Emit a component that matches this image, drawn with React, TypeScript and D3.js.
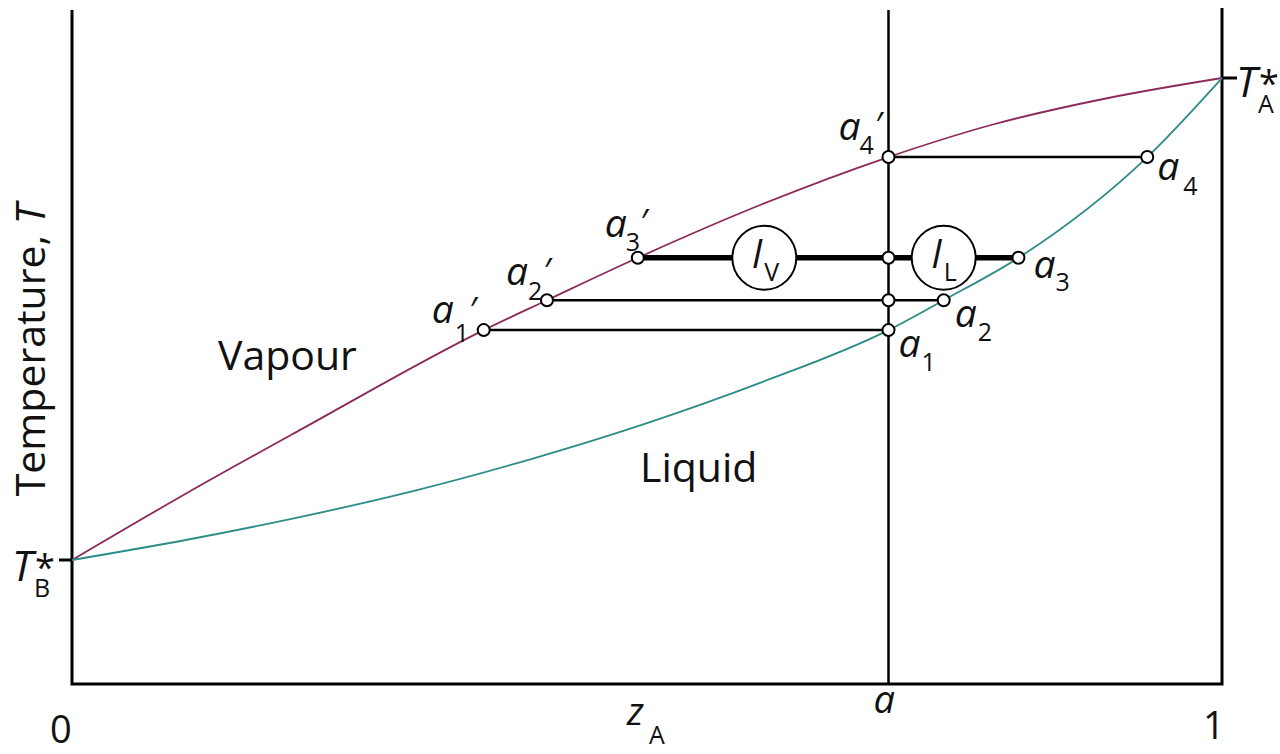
import React from "react";
import * as d3 from "d3";

// Mole fraction of A (zA) vs temperature, normalised so T*B = 0 and T*A = 1.
const vapourCurve: [number, number][] = [
  [0, 0], [0.1, 0.139], [0.2, 0.272], [0.358, 0.477], [0.413, 0.539],
  [0.492, 0.627], [0.6, 0.738], [0.71, 0.836], [0.8, 0.903], [0.9, 0.958], [1, 1],
];
const liquidCurve: [number, number][] = [
  [0, 0], [0.1, 0.042], [0.2, 0.09], [0.3, 0.145], [0.4, 0.21], [0.5, 0.284],
  [0.6, 0.369], [0.71, 0.477], [0.758, 0.539], [0.823, 0.627], [0.935, 0.836], [1, 1],
];

// Overall composition a
const compositionA = 0.71;

// Tie lines: temperature, vapour-end composition, liquid-end composition
const tieIds = ["1", "2", "3", "4"];
const tieT = [0.477, 0.539, 0.627, 0.836];
const tieXV = [0.358, 0.413, 0.492, 0.71];
const tieXL = [0.71, 0.758, 0.823, 0.935];

// Lever-rule circles on the third tie line
const leverLabels = ["V", "L"];
const leverX = [0.602, 0.758];

const FONT = "'Open Sans', 'Noto Sans', Arial, sans-serif";
const PURPLE = "#8c2a5c";
const TEAL = "#2c8c86";

// text placement offsets (px) from the marker each label belongs to
const primeOffsets = [
  { a: [-52, -7], s: [-29, 12], p: [-15, -8] },
  { a: [-41, -15], s: [-19, 0], p: [-4, -17] },
  { a: [-33, -21], s: [-12, -7], p: [2, -24] },
  { a: [-50, -17], s: [-29, -3], p: [-14, -20] },
];
const liquidOffsets = [
  { a: [10, 27], s: [33, 41] },
  { a: [11, 27], s: [34, 41] },
  { a: [15, 20], s: [37, 33] },
  { a: [10, 23], s: [36, 38] },
];

export default function App() {
  const W = 1280;
  const H = 754;
  const left = 72, right = 1222, top = 10, bottom = 684;

  const x = d3.scaleLinear().domain([0, 1]).range([left, right]);
  const y = d3.scaleLinear().domain([0, 1]).range([560, 78]);

  const line = d3
    .line<[number, number]>()
    .x((d) => x(d[0]))
    .y((d) => y(d[1]))
    .curve(d3.curveMonotoneX);

  const ax = x(compositionA);

  const smallDots: [number, number][] = [];
  tieT.forEach((t, i) => {
    smallDots.push([tieXV[i], t]);
    smallDots.push([tieXL[i], t]);
    if (tieXV[i] !== compositionA && tieXL[i] !== compositionA) smallDots.push([compositionA, t]);
  });

  const aSize = 39;
  const subSize = 25;

  return (
    <svg
      width={W}
      height={H}
      style={{ position: "absolute", left: 0, top: 0, background: "#fff" }}
      fontFamily={FONT}
    >
      {/* frame */}
      <path
        d={`M${left},${top} V${bottom} H${right} V${top - 2}`}
        fill="none"
        stroke="#000"
        strokeWidth={3}
      />
      {/* composition line at a */}
      <line x1={ax} x2={ax} y1={top} y2={bottom} stroke="#000" strokeWidth={2.5} />

      {/* boiling point ticks */}
      <line x1={left - 13} x2={left} y1={y(0)} y2={y(0)} stroke="#000" strokeWidth={3} />
      <line x1={right} x2={right + 15} y1={y(1)} y2={y(1)} stroke="#000" strokeWidth={3} />

      {/* phase boundaries */}
      <path d={line(vapourCurve) || ""} fill="none" stroke={PURPLE} strokeWidth={1.8} />
      <path d={line(liquidCurve) || ""} fill="none" stroke={TEAL} strokeWidth={1.8} />

      {/* tie lines */}
      {tieT.map((t, i) => (
        <line
          key={`tie${i}`}
          x1={x(tieXV[i])}
          x2={x(tieXL[i])}
          y1={y(t)}
          y2={y(t)}
          stroke="#000"
          strokeWidth={i === 2 ? 5.5 : 2.5}
        />
      ))}

      {/* lever circles */}
      {leverX.map((lx, i) => (
        <g key={`lever${i}`}>
          <circle cx={x(lx)} cy={y(tieT[2])} r={32} fill="#fff" stroke="#000" strokeWidth={2} />
          <text x={x(lx) - 12} y={y(tieT[2]) + 10} fontSize={38} fontStyle="italic" fill="#111">
            l
          </text>
          <text x={x(lx) + 0} y={y(tieT[2]) + 23} fontSize={subSize} fill="#111">
            {leverLabels[i]}
          </text>
        </g>
      ))}

      {/* markers */}
      {smallDots.map((d, i) => (
        <circle key={`dot${i}`} cx={x(d[0])} cy={y(d[1])} r={6} fill="#fff" stroke="#000" strokeWidth={2} />
      ))}

      {/* vapour-end labels a′ */}
      {tieT.map((t, i) => {
        const px = x(tieXV[i]);
        const py = y(t);
        const o = primeOffsets[i];
        return (
          <g key={`vl${i}`} fill="#111">
            <text x={px + o.a[0]} y={py + o.a[1]} fontSize={aSize} fontStyle="italic">a</text>
            <text x={px + o.s[0]} y={py + o.s[1]} fontSize={subSize}>{tieIds[i]}</text>
            <text x={px + o.p[0]} y={py + o.p[1]} fontSize={34} fontStyle="italic">′</text>
          </g>
        );
      })}

      {/* liquid-end labels a */}
      {tieT.map((t, i) => {
        const px = x(tieXL[i]);
        const py = y(t);
        const o = liquidOffsets[i];
        return (
          <g key={`ll${i}`} fill="#111">
            <text x={px + o.a[0]} y={py + o.a[1]} fontSize={aSize} fontStyle="italic">a</text>
            <text x={px + o.s[0]} y={py + o.s[1]} fontSize={subSize}>{tieIds[i]}</text>
          </g>
        );
      })}

      {/* region labels */}
      <text x={218} y={370} fontSize={41} fill="#111">Vapour</text>
      <text x={640} y={482} fontSize={41} fill="#111">Liquid</text>

      {/* axis title */}
      <text
        transform={`translate(45, ${350}) rotate(-90)`}
        textAnchor="middle"
        fontSize={41}
        fill="#111"
      >
        Temperature, <tspan fontStyle="italic">T</tspan>
      </text>

      {/* pure-component boiling points */}
      <g fill="#111">
        <text x={12} y={y(0) + 21} fontSize={42} fontStyle="italic">T</text>
        <text x={35} y={y(0) + 20} fontSize={36}>*</text>
        <text x={34} y={y(0) + 37} fontSize={25}>B</text>
        <text x={1236} y={y(1) + 19} fontSize={42} fontStyle="italic">T</text>
        <text x={1259} y={y(1) + 18} fontSize={36}>*</text>
        <text x={1258} y={y(1) + 35} fontSize={25}>A</text>
      </g>

      {/* composition axis labels */}
      <g fill="#111">
        <text x={50} y={743} fontSize={38}>0</text>
        <text x={1203} y={739} fontSize={38}>1</text>
        <text x={ax - 15} y={713} fontSize={38} fontStyle="italic">a</text>
        <text x={627} y={725} fontSize={38} fontStyle="italic">z</text>
        <text x={649} y={744} fontSize={25}>A</text>
      </g>
    </svg>
  );
}
